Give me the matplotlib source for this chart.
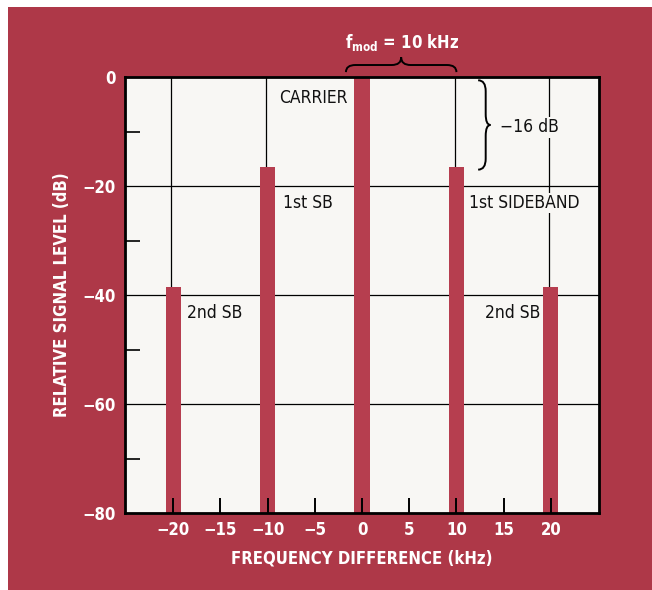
import matplotlib.pyplot as plt
from matplotlib.patches import Rectangle, PathPatch
from matplotlib.path import Path
import numpy as np

plt.rcParams['font.family'] = ['DejaVu Sans']
plt.rcParams['font.stretch'] = 'condensed'
plt.rcParams['mathtext.fontset'] = 'custom'
plt.rcParams['mathtext.rm'] = 'DejaVu Sans:bold'
plt.rcParams['mathtext.it'] = 'DejaVu Sans:bold'

# spectrum lines (kHz offset, dB relative to carrier)
freqs = [-20, -10, 0, 10, 20]
levels = [-38.5, -16.5, 0, -16.5, -38.5]
xticks = [-20, -15, -10, -5, 0, 5, 10, 15, 20]
yticks = [0, -20, -40, -60, -80]
yminor = [-10, -30, -50, -70]

panel = '#ae3848'
bar_c = '#b63e4f'
paper = '#f8f7f4'

fig = plt.figure(figsize=(6.52, 5.9), dpi=100, facecolor='white')
fig.patches.append(Rectangle((8 / 652, 0), 1, (590 - 7) / 590, transform=fig.transFigure,
                             facecolor=panel, edgecolor='none', zorder=-10))
ax = fig.add_axes([125 / 652, 77 / 590, 474 / 652, 436 / 590])
ax.set_facecolor(paper)
ax.set_axisbelow(False)
ax.set_xlim(-25.1, 25.1)
ax.set_ylim(-80, 0)

for y in [-20, -40, -60]:
    ax.axhline(y, color='black', lw=0.9, zorder=1)

ax.bar(freqs, [l + 80 for l in levels], bottom=-80, width=1.6, color=bar_c, zorder=2)
# stems from top of chart down to each sideband
for f, l in zip(freqs, levels):
    if f != 0:
        ax.plot([f - 0.2, f - 0.2], [0, l], color='black', lw=0.9, zorder=1.5)

for s in ax.spines.values():
    s.set_linewidth(2.0)
ax.set_xticks(xticks)
ax.set_xticklabels([str(t).replace('-', '\u2212') for t in xticks])
ax.set_yticks(yticks)
ax.set_yticklabels([str(t).replace('-', '\u2212') for t in yticks])
ax.set_yticks(yminor, minor=True)
ax.tick_params(axis='x', direction='in', length=11, width=1.4, colors='black',
               labelcolor='white', labelsize=12, pad=6)
ax.tick_params(axis='y', which='major', length=0, labelcolor='white', labelsize=12, pad=7)
ax.tick_params(axis='y', which='minor', direction='in', length=11, width=1.2)
for t in ax.get_xticklabels() + ax.get_yticklabels():
    t.set_fontweight('bold')

ax.set_xlabel('FREQUENCY DIFFERENCE (kHz)', color='white', fontsize=12, fontweight='bold', labelpad=7)
ax.set_ylabel('RELATIVE SIGNAL LEVEL (dB)', color='white', fontsize=12, fontweight='bold', labelpad=8)

tk = dict(fontsize=12.5, color='#111111', va='center', zorder=3)
ax.text(-1.5, -3.9, 'CARRIER', ha='right', **tk)
ax.text(-8.4, -23.1, '1st SB', ha='left', **tk)
ax.text(11.3, -23.1, '1st SIDEBAND', ha='left',
        bbox=dict(facecolor=paper, edgecolor='none', pad=1), **tk)
ax.text(14.6, -9.2, '\u221216 dB', ha='left',
        bbox=dict(facecolor=paper, edgecolor='none', pad=1), **tk)
ax.text(-18.5, -43.3, '2nd SB', ha='left', **tk)
ax.text(13.0, -43.3, '2nd SB', ha='left', **tk)


def brace_h(x0, x1, yb, yt, ytip, d):
    xc = (x0 + x1) / 2
    verts = [(x0, yb), (x0, yt), (x0 + d, yt), (xc - d, yt), (xc, yt), (xc, ytip),
             (xc, yt), (xc + d, yt), (x1 - d, yt), (x1, yt), (x1, yb)]
    codes = [Path.MOVETO, Path.CURVE3, Path.CURVE3, Path.LINETO, Path.CURVE3, Path.CURVE3,
             Path.CURVE3, Path.CURVE3, Path.LINETO, Path.CURVE3, Path.CURVE3]
    return Path(verts, codes)


def brace_v(y0, y1, xb, xt, xtip, d):
    yc = (y0 + y1) / 2
    verts = [(xb, y0), (xt, y0), (xt, y0 - d), (xt, yc + d), (xt, yc), (xtip, yc),
             (xt, yc), (xt, yc - d), (xt, y1 + d), (xt, y1), (xb, y1)]
    codes = [Path.MOVETO, Path.CURVE3, Path.CURVE3, Path.LINETO, Path.CURVE3, Path.CURVE3,
             Path.CURVE3, Path.CURVE3, Path.LINETO, Path.CURVE3, Path.CURVE3]
    return Path(verts, codes)


ax.add_patch(PathPatch(brace_h(-1.7, 10.0, 0.9, 2.2, 3.6, 1.0), facecolor='none',
                       edgecolor='black', lw=1.4, clip_on=False, zorder=4))
ax.add_patch(PathPatch(brace_v(-0.6, -17.0, 12.3, 13.1, 13.6, 2.0), facecolor='none',
                       edgecolor='black', lw=1.4, zorder=4))

ax.text(4.2, 6.4, r'f$_\mathrm{mod}$ = 10 kHz', color='white', fontsize=12, fontweight='bold',
        ha='center', va='center', clip_on=False)

fig.savefig('out.png', dpi=100, facecolor='white')
